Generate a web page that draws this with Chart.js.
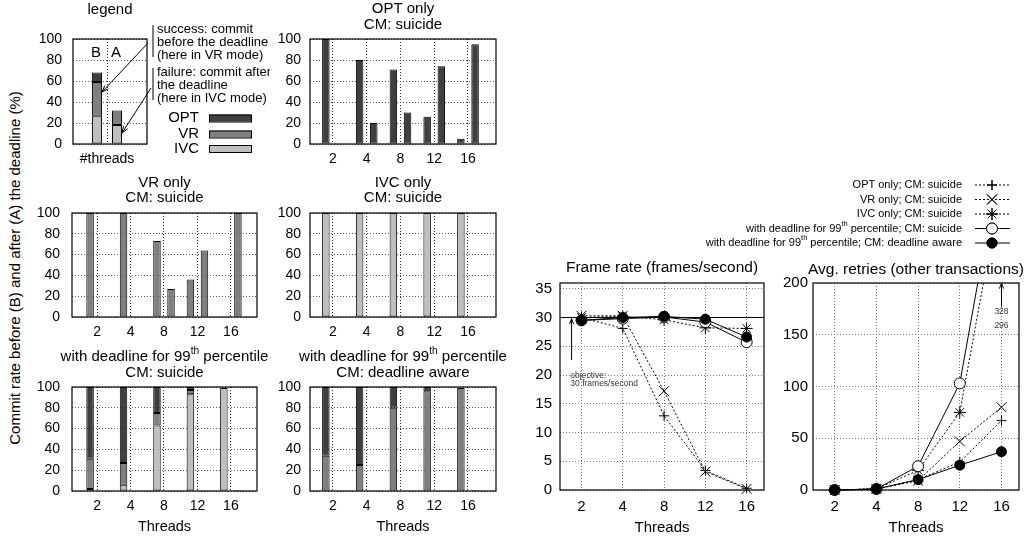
<!DOCTYPE html>
<html>
<head>
<meta charset="utf-8">
<script src="https://cdn.jsdelivr.net/npm/chart.js@4.4.1/dist/chart.umd.min.js"></script>
<style>
  body { margin: 0; background: #fff; width: 1027px; height: 542px; position: relative; overflow: hidden;
         font-family: "Liberation Sans", Arial, Helvetica, sans-serif; }
  canvas { position: absolute; }
  #ytitle { position: absolute; left: 14px; top: 268px; transform: translate(-50%, -50%) rotate(-90deg);
            white-space: nowrap; font-size: 15px; color: #000; }
</style>
</head>
<body>
<div id="ytitle">Commit rate before (B) and after (A) the deadline (%)</div>
<script>
// ---- data ----
const threads = ['2', '4', '8', '12', '16'];
const percentTicks = [0, 20, 40, 60, 80, 100];
const fpsTicks = [0, 5, 10, 15, 20, 25, 30, 35];
const retryTicks = [0, 50, 100, 150, 200];

// legend sample bar (IVC, VR, OPT stacked)
const sampleBefore = [27, 32, 9];
const sampleAfter = [18, 14, 0];

const optOnlyBefore = [100, 80, 71, 26, 5];
const optOnlyAfter = [0, 20, 30, 74, 95];
const vrOnlyBefore = [100, 100, 73, 36, 0];
const vrOnlyAfter = [0, 0.5, 27, 64, 100];
const ivcOnlyBefore = [100, 100, 100, 100, 100];
const ivcOnlyAfter = [0, 0, 0, 0, 0.5];

const dlSuicideBeforeIVC = [2, 6, 63, 93, 99];
const dlSuicideBeforeVR = [29, 21, 12, 4, 0];
const dlSuicideBeforeOPT = [69, 73, 25, 3, 0];
const dlSuicideAfterIVC = [0, 0, 0.5, 0.5, 0];
const dlSuicideAfterOPT = [0, 0, 0, 0, 1];

const dlAwareBeforeVR = [34, 25, 80, 96, 99];
const dlAwareBeforeOPT = [66, 75, 20, 4, 0];
const dlAwareAfterVR = [0, 0, 0.5, 0.5, 0];
const dlAwareAfterOPT = [0, 0, 0, 0, 1];

const objectiveFps = 30;
const fpsOpt = [30, 28.1, 12.9, 3.4, 0.3];
const fpsVr = [30.3, 30.3, 17.2, 3.2, 0.2];
const fpsIvc = [30, 30.2, 29.6, 28.2, 28.1];
const fpsDlSuicide = [29.5, 29.8, 30.1, 29.2, 25.7];
const fpsDlAware = [29.5, 30, 30.2, 29.7, 26.6];

const retriesOpt = [0, 1, 10, 27, 67];
const retriesVr = [0, 1, 9, 47, 80];
const retriesIvc = [0, 1, 19, 75, 296];
const retriesDlSuicide = [0, 1, 23, 103, 328];
const retriesDlAware = [0, 1, 10, 24, 37];

// ---- styles ----
const FONT = '"Liberation Sans", Arial, Helvetica, sans-serif';
const OPT = '#3f3f3f', VR = '#7f7f7f', IVC = '#bfbfbf';

Chart.defaults.font.family = FONT;
Chart.defaults.color = '#000';
Chart.defaults.animation = false;
Chart.defaults.plugins.legend.display = false;
Chart.defaults.plugins.tooltip.enabled = false;

function makeCanvas(box) {
  const c = document.createElement('canvas');
  c.width = box[2]; c.height = box[3];
  c.style.left = box[0] + 'px'; c.style.top = box[1] + 'px';
  c.style.width = box[2] + 'px'; c.style.height = box[3] + 'px';
  document.body.appendChild(c);
  return c;
}

function txt(ctx, s, x, y, size, align) {
  ctx.font = size + 'px ' + FONT;
  ctx.textAlign = align || 'center';
  ctx.textBaseline = 'middle';
  ctx.fillStyle = '#000';
  ctx.fillText(s, x, y);
}

// segments: [[text, isSup], ...]
function rich(ctx, segs, x, y, size, align) {
  const supSize = size * 0.68;
  let w = 0;
  segs.forEach(([t, sup]) => { ctx.font = (sup ? supSize : size) + 'px ' + FONT; w += ctx.measureText(t).width; });
  let cx = align === 'right' ? x - w : (align === 'left' ? x : x - w / 2);
  ctx.textAlign = 'left'; ctx.textBaseline = 'middle'; ctx.fillStyle = '#000';
  segs.forEach(([t, sup]) => {
    ctx.font = (sup ? supSize : size) + 'px ' + FONT;
    ctx.fillText(t, cx, sup ? y - size * 0.42 : y);
    cx += ctx.measureText(t).width;
  });
}

function arrow(ctx, x1, y1, x2, y2, head) {
  head = head || 7;
  ctx.save();
  ctx.strokeStyle = '#000'; ctx.lineWidth = 1;
  ctx.beginPath(); ctx.moveTo(x1, y1); ctx.lineTo(x2, y2); ctx.stroke();
  const a = Math.atan2(y2 - y1, x2 - x1);
  ctx.beginPath();
  ctx.moveTo(x2 - head * Math.cos(a - 0.35), y2 - head * Math.sin(a - 0.35));
  ctx.lineTo(x2, y2);
  ctx.lineTo(x2 - head * Math.cos(a + 0.35), y2 - head * Math.sin(a + 0.35));
  ctx.stroke();
  ctx.restore();
}

const framePlugin = {
  id: 'frame',
  afterDatasetsDraw(chart) {
    const a = chart.chartArea, ctx = chart.ctx;
    ctx.save();
    ctx.strokeStyle = '#000'; ctx.lineWidth = 1.2;
    ctx.strokeRect(a.left, a.top, a.right - a.left, a.bottom - a.top);
    ctx.restore();
  }
};

const lineTitle = (segs, y) => ({ segs, y });
const withDeadline = [['with deadline for 99', false], ['th', true], [' percentile', false]];

// box: [left, top, width, height] in page px, area: [left, top, right, bottom] in page px
function barPanel(p) {
  const box = p.box, area = p.area;
  const cv = makeCanvas(box);
  const datasets = p.series.map(s => ({
    data: s.values.map((v, i) => ({ x: i + s.shift, y: v ? v : null })),
    backgroundColor: s.color,
    borderColor: '#000',
    borderWidth: 1,
    borderSkipped: false,
    grouped: false,
    maxBarThickness: p.barWidth
  }));
  new Chart(cv, {
    type: 'bar',
    data: { datasets },
    options: {
      responsive: false,
      layout: { padding: { left: 0, top: area[1] - box[1], right: box[0] + box[2] - area[2], bottom: 0 } },
      scales: {
        x: {
          type: 'linear', min: p.xMin, max: p.xMax, offset: false,
          afterBuildTicks: s => { s.ticks = p.xTicks.map(v => ({ value: v })); },
          afterFit: s => { s.height = box[1] + box[3] - area[3]; },
          ticks: { callback: v => p.xLabels[p.xTicks.indexOf(v)], padding: 7, font: { size: 14 }, maxRotation: 0, autoSkip: false },
          grid: { color: '#222', lineWidth: 1, drawTicks: false, offset: false },
          border: { display: false, dash: [1, 2] }
        },
        y: {
          stacked: true, min: 0, max: 100,
          afterBuildTicks: s => { s.ticks = percentTicks.map(v => ({ value: v })); },
          afterFit: s => { s.width = area[0] - box[0]; },
          ticks: { padding: p.yPad, font: { size: 14 } },
          grid: { color: '#555', lineWidth: 1, drawTicks: false },
          border: { display: false, dash: [1, 2] }
        }
      }
    },
    plugins: [framePlugin, {
      id: 'deco',
      afterDraw(chart) {
        const ctx = chart.ctx, a = chart.chartArea;
        const cx = (a.left + a.right) / 2;
        p.titles.forEach(t => rich(ctx, t.segs, cx, t.y - box[1], 15));
        if (p.threadsY) txt(ctx, 'Threads', cx, p.threadsY - box[1], 14.5);
        if (p.extra) p.extra(ctx, (x, y) => [x - box[0], y - box[1]]);
      }
    }]
  });
}

const B = -0.21, A = 0.21;

// legend panel
barPanel({
  box: [20, 0, 250, 170], area: [73, 39, 147, 144],
  xMin: -0.92, xMax: 1.08, xTicks: [0], xLabels: ['#threads'], yPad: 11, barWidth: 10,
  series: [
    { values: [sampleBefore[0]], shift: -0.27, color: IVC },
    { values: [sampleBefore[1]], shift: -0.27, color: VR },
    { values: [sampleBefore[2]], shift: -0.27, color: OPT },
    { values: [sampleAfter[0]], shift: 0.27, color: IVC },
    { values: [sampleAfter[1]], shift: 0.27, color: VR },
    { values: [sampleAfter[2]], shift: 0.27, color: OPT }
  ],
  titles: [lineTitle([['legend', false]], 10)],
  extra(ctx, P) {
    let q = P(96, 53); txt(ctx, 'B', q[0], q[1], 15);
    q = P(116, 53); txt(ctx, 'A', q[0], q[1], 15);
    ctx.save(); ctx.strokeStyle = '#000'; ctx.lineWidth = 1;
    let s = P(153, 25), e = P(153, 57);
    ctx.beginPath(); ctx.moveTo(s[0], s[1]); ctx.lineTo(e[0], e[1]); ctx.stroke();
    s = P(153, 68); e = P(153, 100);
    ctx.beginPath(); ctx.moveTo(s[0], s[1]); ctx.lineTo(e[0], e[1]); ctx.stroke();
    ctx.restore();
    const lines1 = ['success: commit', 'before the deadline', '(here in VR mode)'];
    const lines2 = ['failure: commit after', 'the deadline', '(here in IVC mode)'];
    lines1.forEach((l, i) => { const r = P(157, 29 + i * 13); txt(ctx, l, r[0], r[1], 13, 'left'); });
    lines2.forEach((l, i) => { const r = P(157, 72 + i * 13); txt(ctx, l, r[0], r[1], 13, 'left'); });
    s = P(148, 43); e = P(102, 92); arrow(ctx, s[0], s[1], e[0], e[1]);
    s = P(151, 88); e = P(122, 133); arrow(ctx, s[0], s[1], e[0], e[1]);
    const keys = [['OPT', OPT, 118], ['VR', VR, 134], ['IVC', IVC, 148.5]];
    keys.forEach(([k, c, y]) => {
      const t = P(199, y); txt(ctx, k, t[0], t[1], 15, 'right');
      const r = P(209, y - 3.5);
      ctx.fillStyle = c; ctx.fillRect(r[0], r[1], 42, 7);
      ctx.strokeStyle = '#000'; ctx.lineWidth = 1; ctx.strokeRect(r[0] + 0.5, r[1] + 0.5, 42, 7);
    });
  }
});

const leftCol = { xMin: -0.75, xMax: 4.78, yPad: 12 };
const rightCol = { xMin: -0.68, xMax: 4.83, yPad: 9 };

barPanel(Object.assign({
  box: [270, 0, 240, 170], area: [310, 39, 496, 144],
  xTicks: [0, 1, 2, 3, 4], xLabels: threads, barWidth: 7.5,
  series: [
    { values: optOnlyBefore, shift: B, color: OPT },
    { values: optOnlyAfter, shift: A, color: OPT }
  ],
  titles: [lineTitle([['OPT only', false]], 9), lineTitle([['CM: suicide', false]], 25)]
}, rightCol));

barPanel(Object.assign({
  box: [20, 170, 250, 175], area: [72, 213, 257, 317],
  xTicks: [0, 1, 2, 3, 4], xLabels: threads, barWidth: 7.5,
  series: [
    { values: vrOnlyBefore, shift: B, color: VR },
    { values: vrOnlyAfter, shift: A, color: VR }
  ],
  titles: [lineTitle([['VR only', false]], 183), lineTitle([['CM: suicide', false]], 198)]
}, leftCol));

barPanel(Object.assign({
  box: [270, 170, 240, 175], area: [310, 213, 496, 317],
  xTicks: [0, 1, 2, 3, 4], xLabels: threads, barWidth: 7.5,
  series: [
    { values: ivcOnlyBefore, shift: B, color: IVC },
    { values: ivcOnlyAfter, shift: A, color: IVC }
  ],
  titles: [lineTitle([['IVC only', false]], 183), lineTitle([['CM: suicide', false]], 198)]
}, rightCol));

barPanel(Object.assign({
  box: [20, 345, 250, 197], area: [72, 387, 257, 491],
  xTicks: [0, 1, 2, 3, 4], xLabels: threads, barWidth: 7.5,
  series: [
    { values: dlSuicideBeforeIVC, shift: B, color: IVC },
    { values: dlSuicideBeforeVR, shift: B, color: VR },
    { values: dlSuicideBeforeOPT, shift: B, color: OPT },
    { values: dlSuicideAfterIVC, shift: A, color: IVC },
    { values: dlSuicideAfterOPT, shift: A, color: OPT }
  ],
  titles: [lineTitle(withDeadline, 357), lineTitle([['CM: suicide', false]], 373)],
  threadsY: 527
}, leftCol));

barPanel(Object.assign({
  box: [270, 345, 240, 197], area: [310, 387, 496, 491],
  xTicks: [0, 1, 2, 3, 4], xLabels: threads, barWidth: 7.5,
  series: [
    { values: dlAwareBeforeVR, shift: B, color: VR },
    { values: dlAwareBeforeOPT, shift: B, color: OPT },
    { values: dlAwareAfterVR, shift: A, color: VR },
    { values: dlAwareAfterOPT, shift: A, color: OPT }
  ],
  titles: [lineTitle(withDeadline, 357), lineTitle([['CM: deadline aware', false]], 373)],
  threadsY: 527
}, rightCol));

// ---- line charts ----
const seriesLook = [
  { segs: [['OPT only; CM: suicide', false]], pointStyle: 'cross', radius: 5, dash: [2, 2], fill: '#000', order: 4 },
  { segs: [['VR only; CM: suicide', false]], pointStyle: 'crossRot', radius: 7, dash: [2, 2], fill: '#000', order: 3 },
  { segs: [['IVC only; CM: suicide', false]], pointStyle: 'star', radius: 6, dash: [2, 2], fill: '#000', order: 2 },
  { segs: [['with deadline for 99', false], ['th', true], [' percentile; CM: suicide', false]], pointStyle: 'circle', radius: 5.5, dash: [], fill: '#fff', order: 1 },
  { segs: [['with deadline for 99', false], ['th', true], [' percentile; CM: deadline aware', false]], pointStyle: 'circle', radius: 5, dash: [], fill: '#000', order: 0 }
];

function linePanel(p) {
  const box = p.box, area = p.area;
  const cv = makeCanvas(box);
  const datasets = p.values.map((vals, k) => {
    const look = seriesLook[k];
    return {
      data: vals.map((v, i) => ({ x: i, y: v })),
      borderColor: '#000', borderWidth: 1, borderDash: look.dash,
      pointStyle: look.pointStyle, pointRadius: look.radius, pointBorderWidth: 1,
      pointBorderColor: '#000', pointBackgroundColor: look.fill,
      order: look.order,
      clip: { left: 10, right: 10, top: 0, bottom: 10 }
    };
  });
  new Chart(cv, {
    type: 'line',
    data: { datasets },
    options: {
      responsive: false,
      layout: { padding: { left: 0, top: area[1] - box[1], right: box[0] + box[2] - area[2], bottom: 0 } },
      scales: {
        x: {
          type: 'linear', min: -0.52, max: 4.42, offset: false,
          afterBuildTicks: s => { s.ticks = [0, 1, 2, 3, 4].map(v => ({ value: v })); },
          afterFit: s => { s.height = box[1] + box[3] - area[3]; },
          ticks: { callback: v => threads[v], padding: 8, font: { size: 15 }, maxRotation: 0, autoSkip: false },
          grid: { color: '#777', drawTicks: false, offset: false },
          border: { display: false, dash: [1, 2] }
        },
        y: {
          min: 0, max: p.yMax,
          afterBuildTicks: s => { s.ticks = p.yTicks.map(v => ({ value: v })); },
          afterFit: s => { s.width = area[0] - box[0]; },
          ticks: { padding: p.yPad, font: { size: 15 } },
          grid: { color: '#777', drawTicks: false },
          border: { display: false, dash: [1, 2] }
        }
      }
    },
    plugins: [framePlugin, {
      id: 'deco',
      beforeDatasetsDraw(chart) { if (p.before) p.before(chart); },
      afterDraw(chart) {
        const ctx = chart.ctx, a = chart.chartArea;
        const cx = (a.left + a.right) / 2;
        txt(ctx, p.title, cx, p.titleY - box[1], 15.5);
        txt(ctx, 'Threads', cx, 528 - box[1], 15);
        if (p.after) p.after(chart);
      }
    }]
  });
}

linePanel({
  box: [510, 250, 262, 292], area: [560, 283, 770, 490],
  values: [fpsOpt, fpsVr, fpsIvc, fpsDlSuicide, fpsDlAware],
  yMax: 36, yTicks: fpsTicks, yPad: 8,
  title: 'Frame rate (frames/second)', titleY: 268,
  before(chart) {
    const ctx = chart.ctx, a = chart.chartArea, y = chart.scales.y;
    const yy = y.getPixelForValue(objectiveFps);
    ctx.save(); ctx.strokeStyle = '#000'; ctx.lineWidth = 1.2;
    ctx.beginPath(); ctx.moveTo(a.left, yy); ctx.lineTo(a.right, yy); ctx.stroke();
    ctx.restore();
  },
  after(chart) {
    const ctx = chart.ctx, x = chart.scales.x, y = chart.scales.y;
    const ax = x.getPixelForValue(-0.24);
    arrow(ctx, ax, y.getPixelForValue(22.6), ax, y.getPixelForValue(objectiveFps) + 1, 6);
    ctx.save();
    ctx.font = '8.5px ' + FONT; ctx.fillStyle = '#333'; ctx.textAlign = 'left'; ctx.textBaseline = 'middle';
    ctx.fillText('objective:', x.getPixelForValue(-0.27), y.getPixelForValue(19.8));
    ctx.fillText('30 frames/second', x.getPixelForValue(-0.27), y.getPixelForValue(18.5));
    ctx.restore();
  }
});

linePanel({
  box: [775, 170, 252, 372], area: [813, 283, 1020, 490],
  values: [retriesOpt, retriesVr, retriesIvc, retriesDlSuicide, retriesDlAware],
  yMax: 200, yTicks: retryTicks, yPad: 5,
  title: 'Avg. retries (other transactions)', titleY: 270,
  after(chart) {
    const ctx = chart.ctx, x = chart.scales.x, y = chart.scales.y;
    const ax = x.getPixelForValue(4);
    arrow(ctx, ax, y.getPixelForValue(177), ax, y.getPixelForValue(200), 6);
    ctx.save();
    ctx.font = '8.5px ' + FONT; ctx.fillStyle = '#333'; ctx.textAlign = 'center'; ctx.textBaseline = 'middle';
    ctx.fillText('328', ax, y.getPixelForValue(172));
    ctx.fillText('296', ax, y.getPixelForValue(159));
    ctx.restore();
  }
});

// ---- key for the two line charts ----
(function drawKey() {
  const box = [680, 175, 347, 78];
  const cv = makeCanvas(box);
  const ctx = cv.getContext('2d');
  const P = (x, y) => [x - box[0], y - box[1]];
  const rowsY = [185, 199.5, 214, 228.5, 243];
  seriesLook.forEach((look, k) => {
    const t = P(962, rowsY[k]);
    rich(ctx, look.segs, t[0], t[1], 11, 'right');
    const l = P(975, rowsY[k]), r = P(1010, rowsY[k]), m = P(992, rowsY[k]);
    ctx.save();
    ctx.strokeStyle = '#000'; ctx.lineWidth = 1; ctx.setLineDash(look.dash);
    ctx.beginPath(); ctx.moveTo(l[0], l[1]); ctx.lineTo(r[0], r[1]); ctx.stroke();
    ctx.setLineDash([]);
    ctx.fillStyle = look.fill;
    Chart.helpers.drawPoint(ctx, { pointStyle: look.pointStyle, radius: look.radius, borderWidth: 1 }, m[0], m[1]);
    if (look.pointStyle === 'circle') { ctx.fill(); }
    ctx.stroke();
    ctx.restore();
  });
})();
</script>
</body>
</html>
